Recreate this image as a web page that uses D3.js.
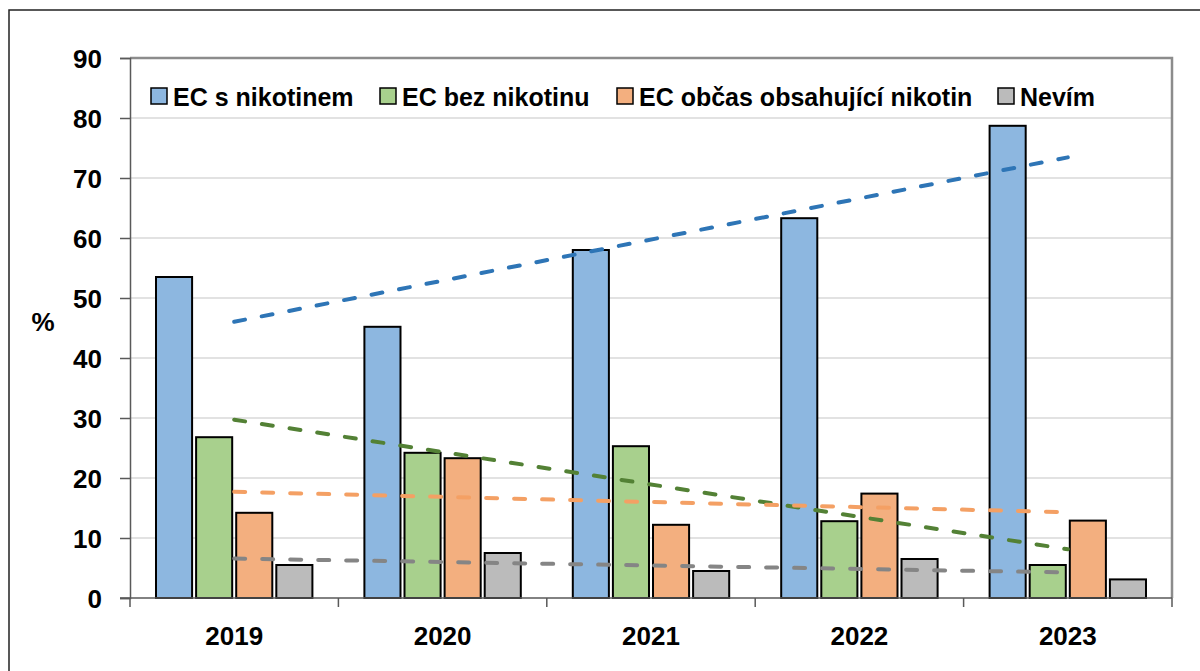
<!DOCTYPE html>
<html>
<head>
<meta charset="utf-8">
<script src="https://cdn.jsdelivr.net/npm/d3@7"></script>
<style>
  html, body { margin: 0; padding: 0; background: #fff; }
  svg { display: block; }
  text { font-family: "Liberation Sans", Arial, sans-serif; font-weight: bold; fill: #000; }
</style>
</head>
<body>
<svg id="chart" width="1200" height="671"></svg>
<script>
// ---- Data ----
const years = ["2019", "2020", "2021", "2022", "2023"];
const seriesNames = ["EC s nikotinem", "EC bez nikotinu", "EC občas obsahující nikotin", "Nevím"];
const ecNikotin     = [53.5, 45.2, 58.0, 63.3, 78.7];
const ecBezNikotinu = [26.8, 24.2, 25.3, 12.8, 5.5];
const ecObcas       = [14.2, 23.3, 12.2, 17.4, 12.9];
const nevim         = [5.5, 7.5, 4.5, 6.5, 3.1];
const yTicks = [0, 10, 20, 30, 40, 50, 60, 70, 80, 90];

const seriesValues = [ecNikotin, ecBezNikotinu, ecObcas, nevim];
const barColors   = ["#8DB7E0", "#A8D08D", "#F3AF7F", "#BBBBBB"];
const trendColors = ["#2E75B6", "#538135", "#F4A064", "#858585"];

// ---- Layout ----
const svg = d3.select("#chart");
const L = 130, R = 1172, T = 58, B = 598;

// outer frame
svg.append("rect").attr("x", 9).attr("y", 10).attr("width", 1400).attr("height", 800)
  .attr("fill", "none").attr("stroke", "#222").attr("stroke-width", 1.5);

const x0 = d3.scaleBand().domain(years).range([L, R]).paddingInner(0).paddingOuter(0);
const x1 = d3.scaleBand().domain(seriesNames).range([26, x0.bandwidth() - 26]).paddingInner(0.1).paddingOuter(0);
const y = d3.scaleLinear().domain([0, 90]).range([B, T]);

// gridlines
svg.append("g").selectAll("line").data(yTicks.filter(d => d > 0 && d < 90)).join("line")
  .attr("x1", L).attr("x2", R).attr("y1", d => y(d)).attr("y2", d => y(d))
  .attr("stroke", "#d9d9d9").attr("stroke-width", 1.5);

// plot frame (top & right)
svg.append("path")
  .attr("d", `M${L},${T}H${R}V${B}`)
  .attr("fill", "none").attr("stroke", "#8c8c8c").attr("stroke-width", 2.5);

// bars
seriesNames.forEach((name, si) => {
  svg.append("g").selectAll("rect").data(years).join("rect")
    .attr("x", (d) => x0(d) + x1(name))
    .attr("y", (d, i) => y(seriesValues[si][i]))
    .attr("width", x1.bandwidth())
    .attr("height", (d, i) => y(0) - y(seriesValues[si][i]))
    .attr("fill", barColors[si])
    .attr("stroke", "#000").attr("stroke-width", 2);
});

// linear trendlines (least squares on the data)
seriesValues.forEach((vals, si) => {
  const n = vals.length;
  const xs = d3.range(n);
  const mx = d3.mean(xs), my = d3.mean(vals);
  const slope = d3.sum(xs, (xi, i) => (xi - mx) * (vals[i] - my)) / d3.sum(xs, xi => (xi - mx) ** 2);
  const icpt = my - slope * mx;
  const cx = i => x0(years[i]) + x0.bandwidth() / 2;
  svg.append("line")
    .attr("x1", cx(0)).attr("y1", y(icpt))
    .attr("x2", cx(n - 1)).attr("y2", y(icpt + slope * (n - 1)))
    .attr("stroke", trendColors[si]).attr("stroke-width", 4)
    .attr("stroke-linecap", "round").attr("stroke-dasharray", "11 17");
});

// y axis
const yAxis = d3.axisLeft(y).tickValues(yTicks).tickSize(10).tickPadding(18);
const gy = svg.append("g").attr("transform", `translate(${L},0)`).call(yAxis);
gy.select(".domain").attr("stroke", "#595959").attr("stroke-width", 1.5);
gy.selectAll(".tick line").attr("stroke", "#595959").attr("stroke-width", 1.5);
gy.selectAll(".tick text").attr("font-size", 26).attr("font-family", "Liberation Sans, Arial, sans-serif")
  .attr("font-weight", "bold").attr("fill", "#000").attr("dy", "0.36em");

// x axis
const gx = svg.append("g").attr("transform", `translate(0,${B})`);
gx.append("line").attr("x1", L - 10).attr("x2", R).attr("y1", 0).attr("y2", 0)
  .attr("stroke", "#595959").attr("stroke-width", 1.5);
gx.selectAll("line.tk").data(d3.range(years.length + 1)).join("line").attr("class", "tk")
  .attr("x1", i => L + i * x0.step()).attr("x2", i => L + i * x0.step())
  .attr("y1", 0).attr("y2", 9).attr("stroke", "#595959").attr("stroke-width", 1.5);
gx.selectAll("text").data(years).join("text")
  .attr("x", d => x0(d) + x0.bandwidth() / 2).attr("y", 38)
  .attr("text-anchor", "middle").attr("font-size", 26).attr("dy", "0.36em")
  .text(d => d);

// y axis title
svg.append("text").attr("x", 43).attr("y", 322).attr("text-anchor", "middle")
  .attr("dy", "0.36em").attr("font-size", 26).text("%");

// legend
const legendX = [151, 380, 617, 998];
const lg = svg.append("g");
seriesNames.forEach((name, si) => {
  const g = lg.append("g").attr("transform", `translate(${legendX[si]},0)`);
  g.append("rect").attr("x", 0).attr("y", 88).attr("width", 16).attr("height", 16)
    .attr("fill", barColors[si]).attr("stroke", "#000").attr("stroke-width", 1.5);
  g.append("text").attr("x", 22).attr("y", 97).attr("dy", "0.36em")
    .attr("font-size", 25).text(name);
});
</script>
</body>
</html>
